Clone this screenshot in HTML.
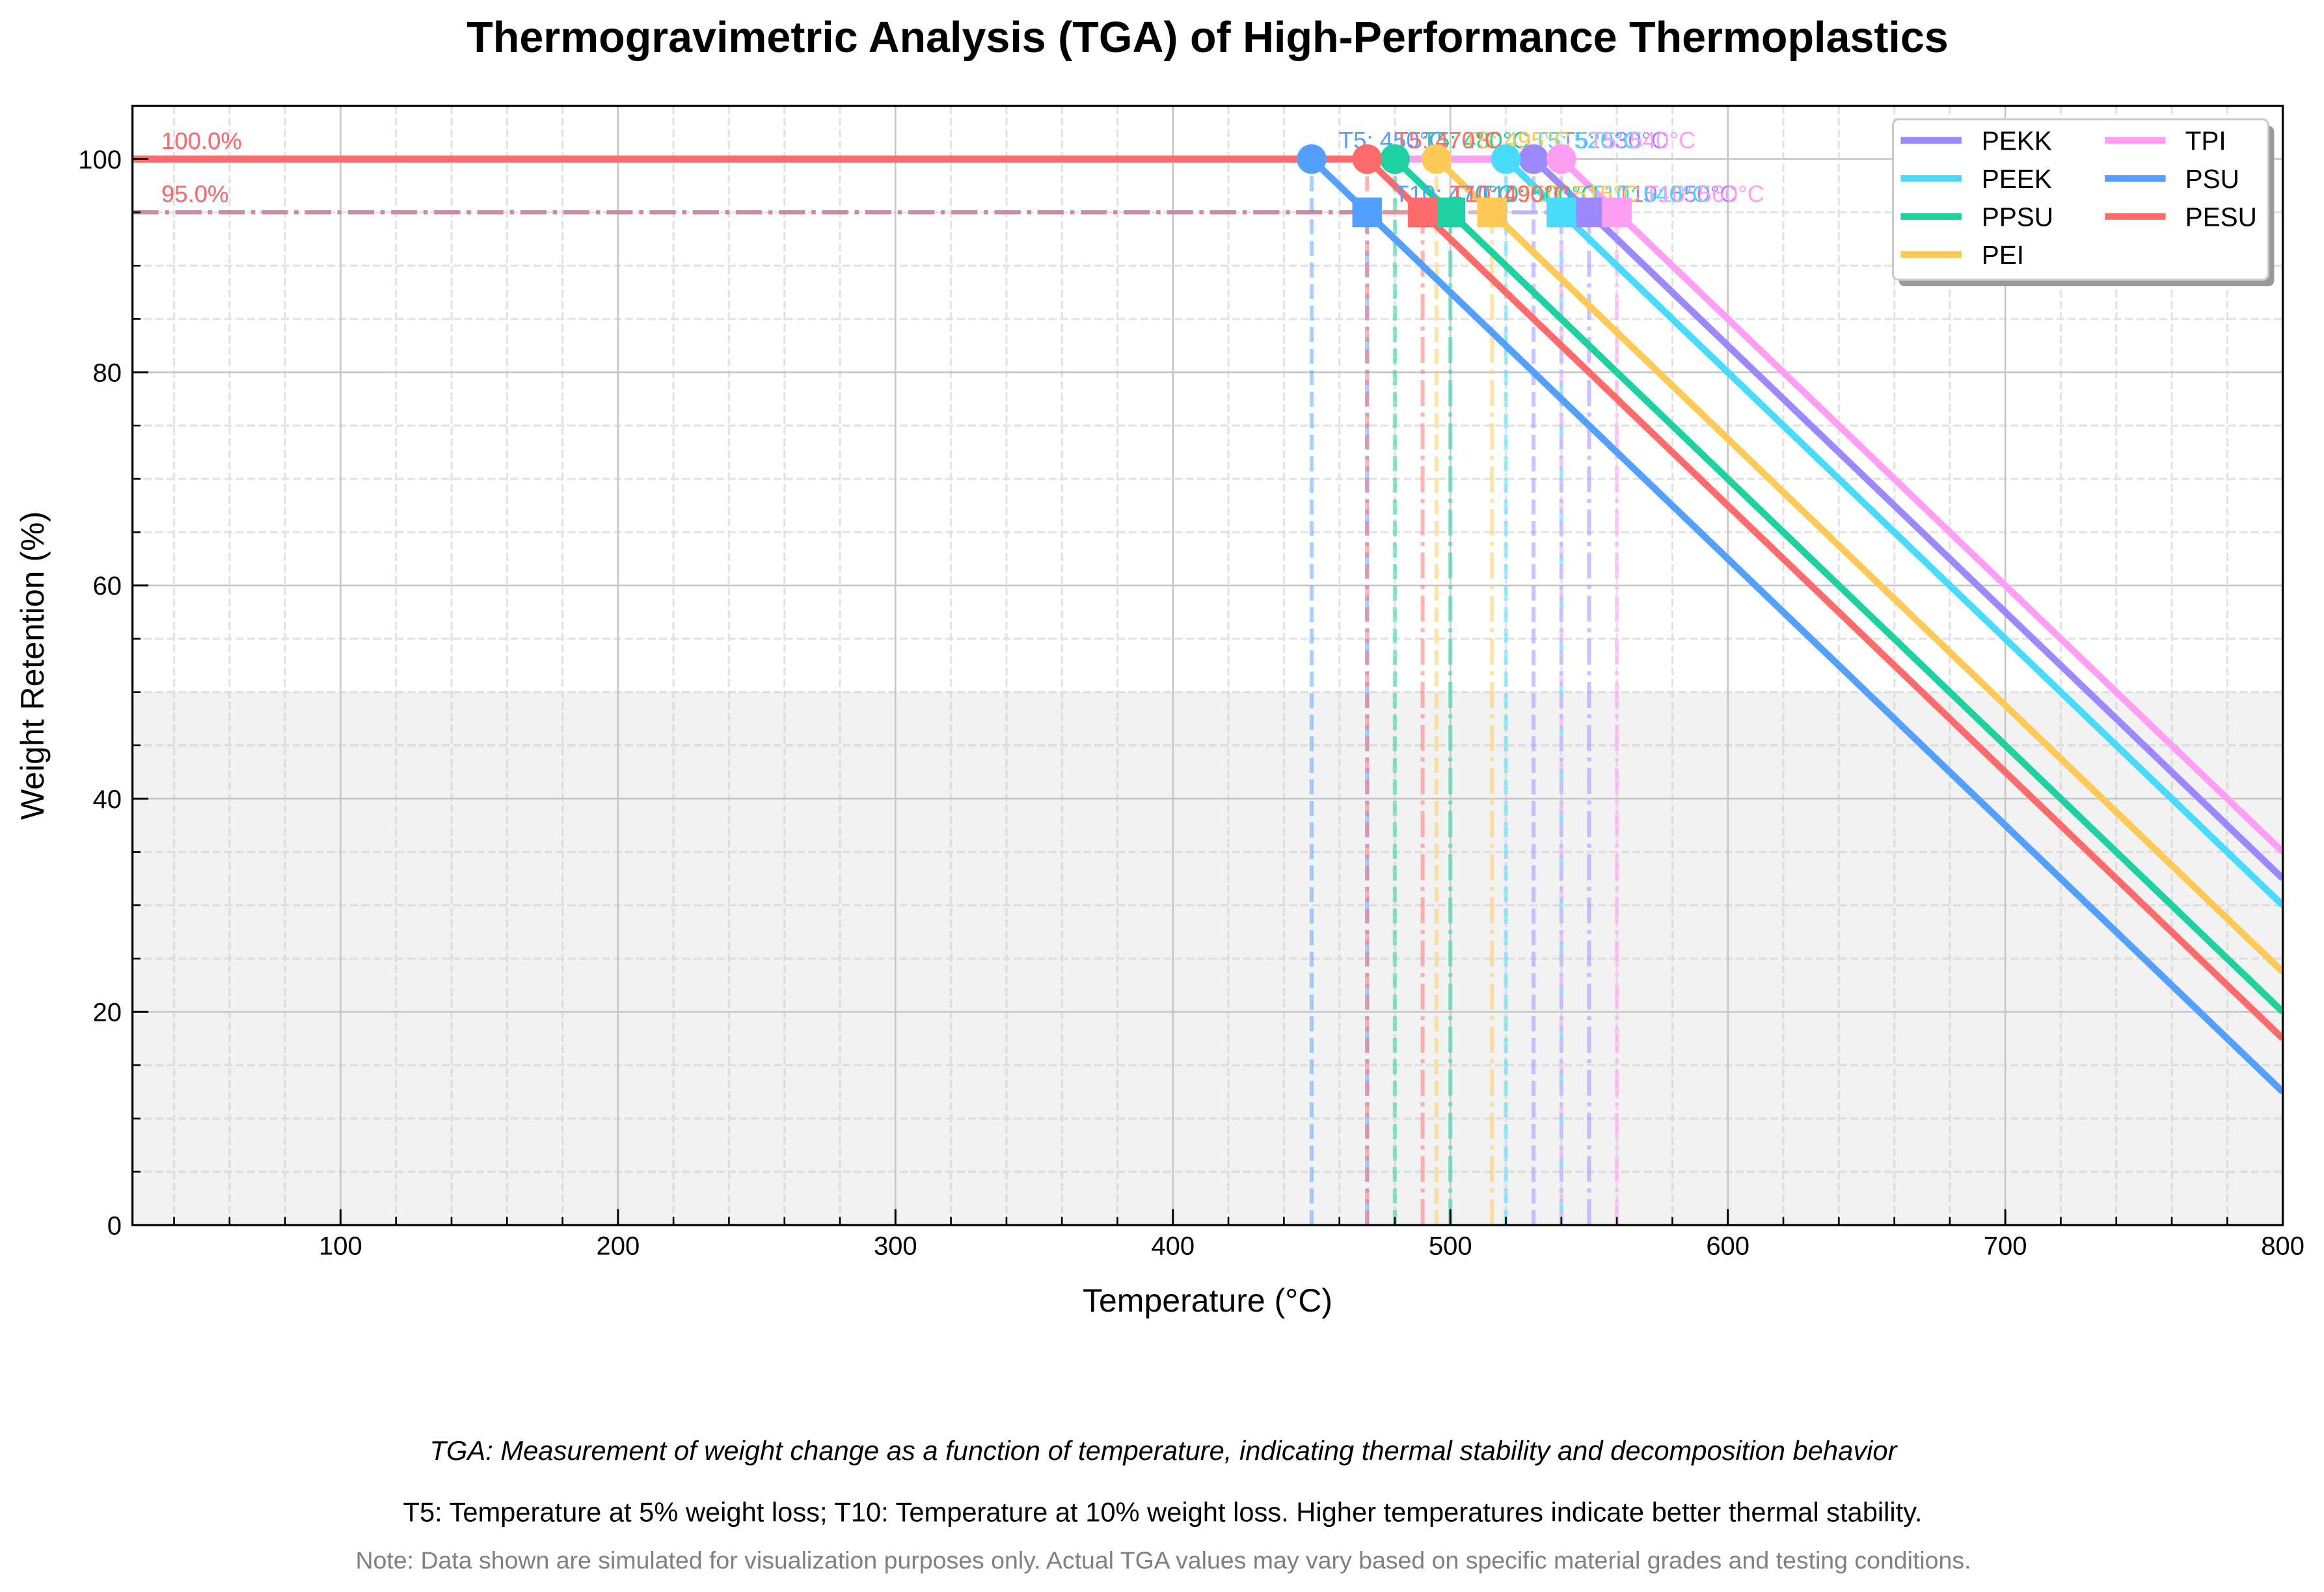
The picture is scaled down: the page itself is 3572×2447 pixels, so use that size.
<!DOCTYPE html>
<html>
<head>
<meta charset="utf-8">
<style>
  html,body{margin:0;padding:0;background:#ffffff;}
  svg{display:block;}
  text{font-family:"Liberation Sans", Arial, sans-serif;}
</style>
</head>
<body>
<svg xmlns="http://www.w3.org/2000/svg" width="3572" height="2447" viewBox="0 0 3572 2447">
  <defs>
    <clipPath id="ax"><rect x="203.6" y="162.6" width="3305" height="1720.4"/></clipPath>
  </defs>
  <rect x="0" y="0" width="3572" height="2447" fill="#ffffff"/>

  <!-- shaded region 0-50% -->
  <rect x="203.6" y="1063.75" width="3305" height="819.25" fill="#f2f2f2"/>

  <!-- minor grid -->
  <path fill="none" stroke="#cccccc" stroke-opacity="0.55" stroke-width="3.3" stroke-dasharray="12.3 5.3"
    d="M267.52 1883V162.6 M352.81 1883V162.6 M438.11 1883V162.6 M608.69 1883V162.6 M693.98 1883V162.6 M779.28 1883V162.6 M864.57 1883V162.6 M1035.15 1883V162.6 M1120.44 1883V162.6 M1205.74 1883V162.6 M1291.03 1883V162.6 M1461.61 1883V162.6 M1546.9 1883V162.6 M1632.2 1883V162.6 M1717.49 1883V162.6 M1888.07 1883V162.6 M1973.36 1883V162.6 M2058.66 1883V162.6 M2143.95 1883V162.6 M2314.53 1883V162.6 M2399.82 1883V162.6 M2485.12 1883V162.6 M2570.41 1883V162.6 M2740.99 1883V162.6 M2826.28 1883V162.6 M2911.58 1883V162.6 M2996.87 1883V162.6 M3167.45 1883V162.6 M3252.74 1883V162.6 M3338.04 1883V162.6 M3423.33 1883V162.6
       M203.6 1801.08H3508.6 M203.6 1719.15H3508.6 M203.6 1637.23H3508.6 M203.6 1473.38H3508.6 M203.6 1391.45H3508.6 M203.6 1309.53H3508.6 M203.6 1145.68H3508.6 M203.6 1063.75H3508.6 M203.6 981.83H3508.6 M203.6 817.98H3508.6 M203.6 736.05H3508.6 M203.6 654.13H3508.6 M203.6 490.28H3508.6 M203.6 408.35H3508.6 M203.6 326.43H3508.6"/>
  <!-- major grid -->
  <path fill="none" stroke="#c6c6c6" stroke-width="2.6"
    d="M523.4 1883V162.6 M949.86 1883V162.6 M1376.32 1883V162.6 M1802.78 1883V162.6 M2229.24 1883V162.6 M2655.7 1883V162.6 M3082.16 1883V162.6
       M203.6 1555.3H3508.6 M203.6 1227.6H3508.6 M203.6 899.9H3508.6 M203.6 572.2H3508.6 M203.6 244.5H3508.6"/>

  <!-- reference (alpha) lines -->
  <g clip-path="url(#ax)" fill="none" stroke-width="6.25" stroke-opacity="0.5">
    <!-- PEKK -->
    <path stroke="#9C88FF" stroke-dasharray="23.1 10" d="M2357.18 1883V244.5"/>
    <path stroke="#9C88FF" stroke-dasharray="40 10 6.25 10" d="M2442.47 1883V326.4"/>
    <path stroke="#9C88FF" stroke-dasharray="40 10 6.25 10" d="M203.6 326.4H2442.47"/>
    <!-- PEEK -->
    <path stroke="#48DBFB" stroke-dasharray="23.1 10" d="M2314.53 1883V244.5"/>
    <path stroke="#48DBFB" stroke-dasharray="40 10 6.25 10" d="M2399.82 1883V326.4"/>
    <path stroke="#48DBFB" stroke-dasharray="40 10 6.25 10" d="M203.6 326.4H2399.82"/>
    <!-- PPSU -->
    <path stroke="#1DD1A1" stroke-dasharray="23.1 10" d="M2143.95 1883V244.5"/>
    <path stroke="#1DD1A1" stroke-dasharray="40 10 6.25 10" d="M2229.24 1883V326.4"/>
    <path stroke="#1DD1A1" stroke-dasharray="40 10 6.25 10" d="M203.6 326.4H2229.24"/>
    <!-- PEI -->
    <path stroke="#FECA57" stroke-dasharray="23.1 10" d="M2207.92 1883V244.5"/>
    <path stroke="#FECA57" stroke-dasharray="40 10 6.25 10" d="M2293.21 1883V326.4"/>
    <path stroke="#FECA57" stroke-dasharray="40 10 6.25 10" d="M203.6 326.4H2293.21"/>
    <!-- TPI -->
    <path stroke="#FF9FF3" stroke-dasharray="23.1 10" d="M2399.82 1883V244.5"/>
    <path stroke="#FF9FF3" stroke-dasharray="40 10 6.25 10" d="M2485.12 1883V326.4"/>
    <path stroke="#FF9FF3" stroke-dasharray="40 10 6.25 10" d="M203.6 326.4H2485.12"/>
    <!-- PSU -->
    <path stroke="#54A0FF" stroke-dasharray="23.1 10" d="M2016.01 1883V244.5"/>
    <path stroke="#54A0FF" stroke-dasharray="40 10 6.25 10" d="M2101.3 1883V326.4"/>
    <path stroke="#54A0FF" stroke-dasharray="40 10 6.25 10" d="M203.6 326.4H2101.3"/>
    <!-- PESU -->
    <path stroke="#FF6B6B" stroke-dasharray="23.1 10" d="M2101.3 1883V244.5"/>
    <path stroke="#FF6B6B" stroke-dasharray="40 10 6.25 10" d="M2186.59 1883V326.4"/>
    <path stroke="#FF6B6B" stroke-dasharray="40 10 6.25 10" d="M203.6 326.4H2186.59"/>
  </g>

  <!-- main series lines -->
  <g clip-path="url(#ax)" fill="none" stroke-width="10.4" stroke-linejoin="round" stroke-linecap="butt">
    <path stroke="#9C88FF" d="M203.56 244.5L2357.18 244.5L3508.6 1350.5"/>
    <path stroke="#48DBFB" d="M203.56 244.5L2314.53 244.5L3508.6 1391.45"/>
    <path stroke="#1DD1A1" d="M203.56 244.5L2143.95 244.5L3508.6 1555.3"/>
    <path stroke="#FECA57" d="M203.56 244.5L2207.92 244.5L3508.6 1493.86"/>
    <path stroke="#FF9FF3" d="M203.56 244.5L2399.82 244.5L3508.6 1309.5"/>
    <path stroke="#54A0FF" d="M203.56 244.5L2016.01 244.5L3508.6 1678.2"/>
    <path stroke="#FF6B6B" d="M203.56 244.5L2101.3 244.5L3508.6 1596.3"/>
  </g>

  <!-- annotation texts -->
  <g font-size="36.5">
    <text x="248" y="229" fill="#9C88FF">100.0%</text>
    <text x="248" y="310.5" fill="#9C88FF">95.0%</text>
    <text x="2399" y="228" fill="#9C88FF">T5: 530°C</text>
    <text x="2484.5" y="310.5" fill="#9C88FF">T10: 550°C</text>

    <text x="248" y="229" fill="#48DBFB">100.0%</text>
    <text x="248" y="310.5" fill="#48DBFB">95.0%</text>
    <text x="2356.3" y="228" fill="#48DBFB">T5: 520°C</text>
    <text x="2441.8" y="310.5" fill="#48DBFB">T10: 540°C</text>

    <text x="248" y="229" fill="#1DD1A1">100.0%</text>
    <text x="248" y="310.5" fill="#1DD1A1">95.0%</text>
    <text x="2185.7" y="228" fill="#1DD1A1">T5: 480°C</text>
    <text x="2271.2" y="310.5" fill="#1DD1A1">T10: 500°C</text>

    <text x="248" y="229" fill="#FECA57">100.0%</text>
    <text x="248" y="310.5" fill="#FECA57">95.0%</text>
    <text x="2249.7" y="228" fill="#FECA57">T5: 495°C</text>
    <text x="2335.2" y="310.5" fill="#FECA57">T10: 515°C</text>

    <text x="248" y="229" fill="#FF9FF3">100.0%</text>
    <text x="248" y="310.5" fill="#FF9FF3">95.0%</text>
    <text x="2441.6" y="228" fill="#FF9FF3">T5: 540°C</text>
    <text x="2527.1" y="310.5" fill="#FF9FF3">T10: 560°C</text>

    <text x="248" y="229" fill="#54A0FF">100.0%</text>
    <text x="248" y="310.5" fill="#54A0FF">95.0%</text>
    <text x="2057.8" y="228" fill="#54A0FF">T5: 450°C</text>
    <text x="2143.3" y="310.5" fill="#54A0FF">T10: 470°C</text>

    <text x="248" y="229" fill="#FF6B6B">100.0%</text>
    <text x="248" y="310.5" fill="#FF6B6B">95.0%</text>
    <text x="2143.1" y="228" fill="#FF6B6B">T5: 470°C</text>
    <text x="2228.4" y="310.5" fill="#FF6B6B">T10: 490°C</text>
  </g>

  <!-- markers -->
  <g>
    <circle cx="2357.18" cy="244.5" r="22.8" fill="#9C88FF"/>
    <rect x="2419.67" y="303.6" width="45.6" height="45.6" fill="#9C88FF"/>
    <circle cx="2314.53" cy="244.5" r="22.8" fill="#48DBFB"/>
    <rect x="2377.02" y="303.6" width="45.6" height="45.6" fill="#48DBFB"/>
    <circle cx="2143.95" cy="244.5" r="22.8" fill="#1DD1A1"/>
    <rect x="2206.44" y="303.6" width="45.6" height="45.6" fill="#1DD1A1"/>
    <circle cx="2207.92" cy="244.5" r="22.8" fill="#FECA57"/>
    <rect x="2270.41" y="303.6" width="45.6" height="45.6" fill="#FECA57"/>
    <circle cx="2399.82" cy="244.5" r="22.8" fill="#FF9FF3"/>
    <rect x="2462.32" y="303.6" width="45.6" height="45.6" fill="#FF9FF3"/>
    <circle cx="2016.01" cy="244.5" r="22.8" fill="#54A0FF"/>
    <rect x="2078.5" y="303.6" width="45.6" height="45.6" fill="#54A0FF"/>
    <circle cx="2101.3" cy="244.5" r="22.8" fill="#FF6B6B"/>
    <rect x="2163.79" y="303.6" width="45.6" height="45.6" fill="#FF6B6B"/>
  </g>

  <!-- legend -->
  <g>
    <rect x="2918.4" y="193.3" width="577" height="246.7" rx="9" ry="9" fill="#9a9a9a"/>
    <rect x="2909.4" y="183.3" width="577" height="246.7" rx="9" ry="9" fill="#ffffff" stroke="#cccccc" stroke-width="3.3"/>
    <g stroke-width="10.4" fill="none">
      <path stroke="#9C88FF" d="M2921.4 215.7H3014.9"/>
      <path stroke="#48DBFB" d="M2921.4 274.3H3014.9"/>
      <path stroke="#1DD1A1" d="M2921.4 332.7H3014.9"/>
      <path stroke="#FECA57" d="M2921.4 391.3H3014.9"/>
      <path stroke="#FF9FF3" d="M3235.2 215.7H3328.6"/>
      <path stroke="#54A0FF" d="M3235.2 274.3H3328.6"/>
      <path stroke="#FF6B6B" d="M3235.2 332.7H3328.6"/>
    </g>
    <g font-size="40.5" fill="#000000">
      <text x="3045.7" y="230.5">PEKK</text>
      <text x="3045.7" y="289.1">PEEK</text>
      <text x="3045.7" y="347.5">PPSU</text>
      <text x="3045.7" y="406.1">PEI</text>
      <text x="3358.6" y="230.5">TPI</text>
      <text x="3358.6" y="289.1">PSU</text>
      <text x="3358.6" y="347.5">PESU</text>
    </g>
  </g>

  <!-- ticks -->
  <path fill="none" stroke="#000000" stroke-width="3"
    d="M203.6 1883h24.5 M203.6 1555.3h24.5 M203.6 1227.6h24.5 M203.6 899.9h24.5 M203.6 572.2h24.5 M203.6 244.5h24.5
       M523.4 1883v-24.5 M949.86 1883v-24.5 M1376.32 1883v-24.5 M1802.78 1883v-24.5 M2229.24 1883v-24.5 M2655.7 1883v-24.5 M3082.16 1883v-24.5"/>
  <path fill="none" stroke="#000000" stroke-width="2.6"
    d="M203.6 1801.08h12.5 M203.6 1719.15h12.5 M203.6 1637.23h12.5 M203.6 1473.38h12.5 M203.6 1391.45h12.5 M203.6 1309.53h12.5 M203.6 1145.68h12.5 M203.6 1063.75h12.5 M203.6 981.83h12.5 M203.6 817.98h12.5 M203.6 736.05h12.5 M203.6 654.13h12.5 M203.6 490.28h12.5 M203.6 408.35h12.5 M203.6 326.43h12.5
       M267.52 1883v-12.5 M352.81 1883v-12.5 M438.11 1883v-12.5 M608.69 1883v-12.5 M693.98 1883v-12.5 M779.28 1883v-12.5 M864.57 1883v-12.5 M1035.15 1883v-12.5 M1120.44 1883v-12.5 M1205.74 1883v-12.5 M1291.03 1883v-12.5 M1461.61 1883v-12.5 M1546.9 1883v-12.5 M1632.2 1883v-12.5 M1717.49 1883v-12.5 M1888.07 1883v-12.5 M1973.36 1883v-12.5 M2058.66 1883v-12.5 M2143.95 1883v-12.5 M2314.53 1883v-12.5 M2399.82 1883v-12.5 M2485.12 1883v-12.5 M2570.41 1883v-12.5 M2740.99 1883v-12.5 M2826.28 1883v-12.5 M2911.58 1883v-12.5 M2996.87 1883v-12.5 M3167.45 1883v-12.5 M3252.74 1883v-12.5 M3338.04 1883v-12.5 M3423.33 1883v-12.5"/>

  <!-- spines -->
  <rect x="203.6" y="162.6" width="3305" height="1720.4" fill="none" stroke="#000000" stroke-width="3.3"/>

  <!-- tick labels -->
  <g font-size="40" fill="#000000" text-anchor="end">
    <text x="187" y="1897.3">0</text>
    <text x="187" y="1569.6">20</text>
    <text x="187" y="1241.9">40</text>
    <text x="187" y="914.2">60</text>
    <text x="187" y="586.5">80</text>
    <text x="187" y="258.8">100</text>
  </g>
  <g font-size="40" fill="#000000" text-anchor="middle">
    <text x="523.4" y="1928.5">100</text>
    <text x="949.86" y="1928.5">200</text>
    <text x="1376.32" y="1928.5">300</text>
    <text x="1802.78" y="1928.5">400</text>
    <text x="2229.24" y="1928.5">500</text>
    <text x="2655.7" y="1928.5">600</text>
    <text x="3082.16" y="1928.5">700</text>
    <text x="3508.6" y="1928.5">800</text>
  </g>

  <!-- axis labels -->
  <text x="1856" y="2016" font-size="50" text-anchor="middle" fill="#000000">Temperature (°C)</text>
  <text x="0" y="0" font-size="50" text-anchor="middle" fill="#000000" transform="translate(67,1023) rotate(-90)">Weight Retention (%)</text>

  <!-- title -->
  <text x="1856" y="80" font-size="66.4" font-weight="bold" text-anchor="middle" fill="#000000">Thermogravimetric Analysis (TGA) of High-Performance Thermoplastics</text>

  <!-- footer texts -->
  <text x="1788" y="2244" font-size="41.7" font-style="italic" text-anchor="middle" fill="#000000" textLength="2255" lengthAdjust="spacingAndGlyphs">TGA: Measurement of weight change as a function of temperature, indicating thermal stability and decomposition behavior</text>
  <text x="1787" y="2338.5" font-size="41.7" text-anchor="middle" fill="#000000" textLength="2335" lengthAdjust="spacingAndGlyphs">T5: Temperature at 5% weight loss; T10: Temperature at 10% weight loss. Higher temperatures indicate better thermal stability.</text>
  <text x="1788" y="2411" font-size="37.5" text-anchor="middle" fill="#808080" textLength="2483" lengthAdjust="spacingAndGlyphs">Note: Data shown are simulated for visualization purposes only. Actual TGA values may vary based on specific material grades and testing conditions.</text>
</svg>
</body>
</html>
